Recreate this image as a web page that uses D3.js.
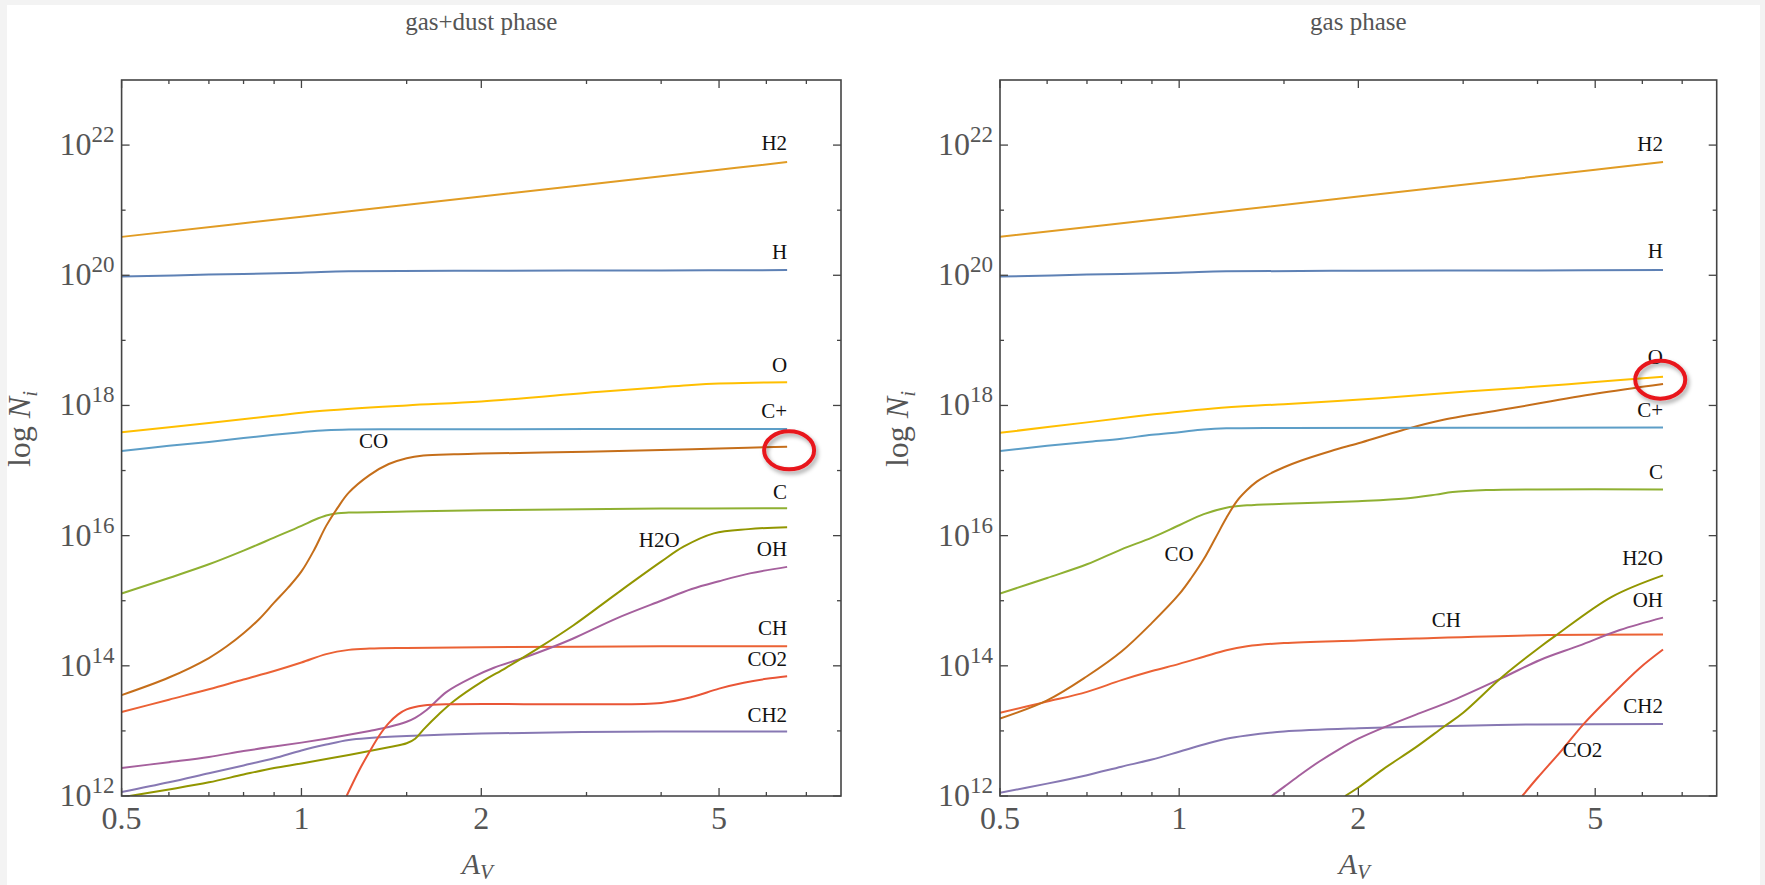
<!DOCTYPE html>
<html>
<head>
<meta charset="utf-8">
<script src="https://cdn.jsdelivr.net/npm/d3@7"></script>
<style>
  html, body { margin: 0; padding: 0; background: #ffffff; }
  svg { display: block; }
</style>
</head>
<body>
<script>
// Column densities: each point is [A_V, log10 N_i]

// ---- gas+dust phase ----
const dustH2  = [[0.5,20.59],[1,20.90],[2,21.21],[5,21.62],[6.5,21.74]];
const dustH   = [[0.5,19.98],[0.7,20.01],[1.0,20.04],[1.2,20.06],[2,20.07],[4,20.075],[6.5,20.08]];
const dustO   = [[0.5,17.59],[0.7,17.73],[0.9,17.84],[1.06,17.91],[1.5,18.0],[2,18.06],[3.16,18.21],[4,18.28],[4.5,18.315],[5,18.337],[5.7,18.35],[6.5,18.355]];
const dustCp  = [[0.5,17.30],[0.6,17.38],[0.7,17.44],[0.8,17.50],[0.9,17.55],[1.0,17.59],[1.1,17.62],[1.2,17.632],[1.5,17.635],[6.5,17.637]];
const dustCO  = [[0.5,13.55],[0.6,13.82],[0.7,14.12],[0.75,14.30],[0.8,14.50],[0.85,14.72],[0.9,14.97],[0.95,15.20],[1.0,15.45],[1.05,15.78],[1.1,16.15],[1.15,16.43],[1.2,16.66],[1.3,16.93],[1.4,17.10],[1.5,17.19],[1.6,17.23],[1.8,17.25],[2,17.26],[3,17.29],[4,17.315],[5,17.34],[6.5,17.366]];
const dustC   = [[0.5,15.11],[0.6,15.35],[0.7,15.56],[0.8,15.77],[0.9,15.97],[1.0,16.15],[1.05,16.24],[1.1,16.31],[1.15,16.345],[1.2,16.355],[1.5,16.37],[2,16.39],[4,16.415],[6.5,16.42]];
const dustCH  = [[0.5,13.29],[0.6,13.48],[0.7,13.64],[0.8,13.79],[0.9,13.92],[1.0,14.05],[1.1,14.18],[1.2,14.245],[1.3,14.265],[1.5,14.275],[2,14.285],[4,14.30],[6.5,14.30]];
const dustCO2 = [[1.19,12.0],[1.25,12.4],[1.3,12.68],[1.35,12.93],[1.4,13.12],[1.45,13.25],[1.5,13.33],[1.6,13.39],[1.8,13.41],[3,13.41],[4,13.43],[4.5,13.52],[5,13.65],[5.5,13.74],[6,13.80],[6.5,13.84]];
const dustH2O = [[0.5,11.98],[0.6,12.10],[0.7,12.21],[0.8,12.33],[0.9,12.43],[1.0,12.50],[1.2,12.63],[1.4,12.75],[1.5,12.81],[1.55,12.88],[1.6,13.02],[1.7,13.26],[1.8,13.46],[2,13.75],[2.2,13.97],[2.5,14.28],[2.85,14.62],[3.37,15.11],[4,15.60],[4.36,15.83],[4.9,16.035],[5.6,16.10],[6.5,16.13]];
const dustOH  = [[0.5,12.43],[0.6,12.52],[0.7,12.60],[0.8,12.69],[0.9,12.76],[1.0,12.82],[1.1,12.88],[1.2,12.94],[1.3,13.00],[1.4,13.06],[1.5,13.14],[1.55,13.20],[1.62,13.32],[1.75,13.60],[1.94,13.83],[2.1,13.97],[2.35,14.12],[2.6,14.27],[2.85,14.42],[3.37,14.73],[4,15.0],[4.5,15.18],[5,15.30],[5.63,15.42],[6.5,15.52]];
const dustCH2 = [[0.5,12.06],[0.6,12.21],[0.7,12.35],[0.8,12.47],[0.9,12.58],[1.0,12.70],[1.1,12.79],[1.2,12.86],[1.3,12.89],[1.5,12.92],[2,12.96],[4,12.99],[6.5,12.99]];

// ---- gas phase ----
const gasH2  = [[0.5,20.59],[1,20.90],[2,21.21],[5,21.62],[6.5,21.74]];
const gasH   = [[0.5,19.98],[0.7,20.01],[1.0,20.04],[1.2,20.06],[2,20.07],[4,20.075],[6.5,20.08]];
const gasO   = [[0.5,17.58],[0.7,17.74],[0.9,17.86],[1.14,17.955],[1.5,18.02],[2.17,18.11],[3,18.21],[4,18.29],[5,18.36],[6.5,18.44]];
const gasCp  = [[0.5,17.30],[0.6,17.38],[0.7,17.44],[0.8,17.49],[0.9,17.55],[1.0,17.59],[1.1,17.63],[1.2,17.648],[1.5,17.655],[6.5,17.66]];
const gasCO  = [[0.5,13.19],[0.6,13.47],[0.7,13.84],[0.8,14.22],[0.9,14.66],[1.0,15.10],[1.05,15.36],[1.1,15.64],[1.15,15.96],[1.2,16.27],[1.25,16.53],[1.3,16.70],[1.35,16.83],[1.4,16.92],[1.5,17.05],[1.6,17.15],[1.8,17.30],[2.0,17.42],[2.37,17.62],[2.78,17.78],[3.63,17.96],[5,18.18],[6.5,18.33]];
const gasC   = [[0.5,15.11],[0.6,15.35],[0.7,15.56],[0.8,15.79],[0.9,15.97],[1.0,16.16],[1.1,16.33],[1.2,16.43],[1.3,16.465],[1.5,16.49],[2,16.53],[2.4,16.57],[2.7,16.63],[2.88,16.67],[3.28,16.70],[4,16.71],[6.5,16.71]];
const gasCH  = [[0.5,13.28],[0.6,13.45],[0.7,13.60],[0.8,13.78],[0.9,13.92],[1.0,14.03],[1.1,14.14],[1.2,14.24],[1.3,14.30],[1.5,14.35],[2,14.39],[2.5,14.42],[4,14.47],[6.5,14.48]];
const gasCO2 = [[3.77,12.0],[4.0,12.28],[4.4,12.71],[4.78,13.105],[5.33,13.55],[5.93,13.96],[6.5,14.25]];
const gasH2O = [[1.9,12.0],[2.0,12.13],[2.2,12.41],[2.5,12.75],[2.78,13.06],[3.0,13.28],[3.5,13.84],[4.04,14.29],[4.3,14.47],[5.33,15.06],[6.5,15.39]];
const gasOH  = [[1.43,12.0],[1.5,12.14],[1.6,12.33],[1.72,12.53],[1.85,12.71],[2.0,12.88],[2.23,13.07],[2.5,13.25],[2.88,13.47],[3.5,13.82],[4.04,14.09],[4.7,14.31],[5.5,14.55],[6.5,14.74]];
const gasCH2 = [[0.5,12.05],[0.6,12.19],[0.7,12.32],[0.8,12.45],[0.9,12.56],[1.0,12.68],[1.1,12.79],[1.2,12.88],[1.3,12.93],[1.5,12.99],[2,13.04],[3,13.08],[4,13.10],[6.5,13.105]];

// Species labels: [text, A_V, log10 N at baseline]
const dustLabels = [["H2",6.5,21.92],["H",6.5,20.25],["O",6.5,18.52],["C+",6.5,17.81],["CO",1.32,17.34],["C",6.5,16.57],["H2O",3.97,15.82],["OH",6.5,15.69],["CH",6.5,14.47],["CO2",6.5,14.0],["CH2",6.5,13.14]];
const gasLabels  = [["H2",6.5,21.91],["H",6.5,20.26],["O",6.5,18.64],["C+",6.5,17.82],["C",6.5,16.87],["CO",1.0,15.61],["H2O",6.5,15.55],["OH",6.5,14.90],["CH",2.81,14.59],["CH2",6.5,13.27],["CO2",4.76,12.60]];

// Highlighted line ends: [A_V, log10 N]
const dustHighlight = [6.55, 17.31];
const gasHighlight  = [6.43, 18.395];

// Axis ticks
const xMajorTicks = [0.5, 1, 2, 5];
const xMinorTicks = [0.6, 0.7, 0.8, 0.9, 1.5, 3, 4, 6, 7];
const yMajorExps  = [12, 14, 16, 18, 20, 22];
const yMinorExps  = [13, 15, 17, 19, 21];

const xDomain = [0.5, 8];
const yDomain = [1e12, 1e23];

const speciesColor = {
  "H": "#5E81B5", "H2": "#E19C24", "C": "#8FB032", "CH": "#EB6235",
  "CH2": "#8778B3", "CO": "#C56E1A", "C+": "#5D9EC7", "O": "#FFBF00",
  "OH": "#A5609D", "H2O": "#929600", "CO2": "#E95536"
};

const dustSeries = [["H",dustH],["H2",dustH2],["C",dustC],["CH",dustCH],["CH2",dustCH2],["CO",dustCO],["C+",dustCp],["O",dustO],["OH",dustOH],["H2O",dustH2O],["CO2",dustCO2]];
const gasSeries  = [["H",gasH],["H2",gasH2],["C",gasC],["CH",gasCH],["CH2",gasCH2],["CO",gasCO],["C+",gasCp],["O",gasO],["OH",gasOH],["H2O",gasH2O],["CO2",gasCO2]];

const W = 1765, H = 885;
const plotTop = 80, plotBottom = 796;
const serif = "'Liberation Serif', 'Times New Roman', serif";
const axisGray = "#555555";

const svg = d3.select("body").append("svg")
  .attr("width", W).attr("height", H)
  .attr("viewBox", `0 0 ${W} ${H}`);

svg.append("rect").attr("width", W).attr("height", H).attr("fill", "#f3f3f3");
svg.append("rect").attr("x", 7).attr("y", 5).attr("width", 1753).attr("height", H - 5).attr("fill", "#ffffff");

const defs = svg.append("defs");
const shadow = defs.append("filter").attr("id", "ringShadow")
  .attr("x", "-40%").attr("y", "-40%").attr("width", "180%").attr("height", "180%");
shadow.append("feDropShadow").attr("dx", 2).attr("dy", 3).attr("stdDeviation", 2)
  .attr("flood-color", "#000").attr("flood-opacity", 0.35);

const panels = [
  { title: "gas+dust phase", left: 121.6, right: 841, series: dustSeries, labels: dustLabels, highlight: dustHighlight, ylabelX: 30, id: "dust" },
  { title: "gas phase", left: 1000, right: 1716.7, series: gasSeries, labels: gasLabels, highlight: gasHighlight, ylabelX: 908, id: "gas" }
];

panels.forEach(p => {
  const x = d3.scaleLog().domain(xDomain).range([p.left, p.right]);
  const y = d3.scaleLog().domain(yDomain).range([plotBottom, plotTop]);
  const g = svg.append("g");

  defs.append("clipPath").attr("id", "clip-" + p.id)
    .append("rect").attr("x", p.left).attr("y", plotTop)
    .attr("width", p.right - p.left).attr("height", plotBottom - plotTop);

  // title
  g.append("text")
    .attr("x", (p.left + p.right) / 2).attr("y", 30)
    .attr("text-anchor", "middle")
    .attr("font-family", serif).attr("font-size", 25)
    .attr("fill", axisGray).text(p.title);

  // series
  const line = d3.line()
    .x(d => x(d[0]))
    .y(d => y(Math.pow(10, d[1])))
    .curve(d3.curveCatmullRom.alpha(0.5));

  const lines = g.append("g").attr("clip-path", `url(#clip-${p.id})`);
  p.series.forEach(([name, pts]) => {
    lines.append("path")
      .attr("d", line(pts))
      .attr("fill", "none")
      .attr("stroke", speciesColor[name])
      .attr("stroke-width", 2)
      .attr("stroke-linejoin", "round");
  });

  // frame
  g.append("rect")
    .attr("x", p.left).attr("y", plotTop)
    .attr("width", p.right - p.left).attr("height", plotBottom - plotTop)
    .attr("fill", "none").attr("stroke", "#444444").attr("stroke-width", 1.6);

  // inward ticks on all four sides
  const tickG = g.append("g").attr("stroke", "#444444").attr("stroke-width", 1.3);
  const xTicks = xMajorTicks.map(v => [v, 8]).concat(xMinorTicks.map(v => [v, 4]));
  xTicks.forEach(([v, len]) => {
    const px = x(v);
    tickG.append("line").attr("x1", px).attr("x2", px).attr("y1", plotBottom).attr("y2", plotBottom - len);
    tickG.append("line").attr("x1", px).attr("x2", px).attr("y1", plotTop).attr("y2", plotTop + len);
  });
  const yTicks = yMajorExps.map(e => [e, 8]).concat(yMinorExps.map(e => [e, 4]));
  yTicks.forEach(([e, len]) => {
    const py = y(Math.pow(10, e));
    tickG.append("line").attr("x1", p.left).attr("x2", p.left + len).attr("y1", py).attr("y2", py);
    tickG.append("line").attr("x1", p.right).attr("x2", p.right - len).attr("y1", py).attr("y2", py);
  });

  // x tick labels
  xMajorTicks.forEach(v => {
    g.append("text")
      .attr("x", x(v)).attr("y", 829)
      .attr("text-anchor", "middle")
      .attr("font-family", serif).attr("font-size", 32)
      .attr("fill", axisGray).text(String(v));
  });

  // y tick labels as powers of ten
  yMajorExps.forEach(e => {
    const t = g.append("text")
      .attr("x", p.left - 7).attr("y", y(Math.pow(10, e)) + 10)
      .attr("text-anchor", "end")
      .attr("font-family", serif).attr("font-size", 32)
      .attr("fill", axisGray);
    t.append("tspan").text("10");
    t.append("tspan").attr("dy", -13).attr("font-size", 23).text(String(e));
  });

  // axis titles
  const xl = g.append("text")
    .attr("x", (p.left + p.right) / 2 - 4).attr("y", 874)
    .attr("text-anchor", "middle")
    .attr("font-family", serif).attr("font-size", 30)
    .attr("fill", axisGray);
  xl.append("tspan").attr("font-style", "italic").text("A");
  xl.append("tspan").attr("font-style", "italic").attr("font-size", 21).attr("dy", 5).text("V");

  const yl = g.append("text")
    .attr("transform", `translate(${p.ylabelX},${(plotTop + plotBottom) / 2 - 9}) rotate(-90)`)
    .attr("text-anchor", "middle")
    .attr("font-family", serif).attr("font-size", 32)
    .attr("fill", axisGray);
  yl.append("tspan").text("log ");
  yl.append("tspan").attr("font-style", "italic").text("N");
  yl.append("tspan").attr("font-style", "italic").attr("font-size", 21).attr("dy", 7).text("i");

  // species labels
  p.labels.forEach(([txt, av, lg]) => {
    g.append("text")
      .attr("x", x(av)).attr("y", y(Math.pow(10, lg)))
      .attr("text-anchor", av >= 6 ? "end" : "middle")
      .attr("font-family", serif).attr("font-size", 21)
      .attr("fill", "#111").text(txt);
  });

  // highlight ring
  g.append("ellipse")
    .attr("cx", x(p.highlight[0])).attr("cy", y(Math.pow(10, p.highlight[1])))
    .attr("rx", 25).attr("ry", 19)
    .attr("fill", "none").attr("stroke", "#e8161d").attr("stroke-width", 4)
    .attr("filter", "url(#ringShadow)");
});
</script>
</body>
</html>
